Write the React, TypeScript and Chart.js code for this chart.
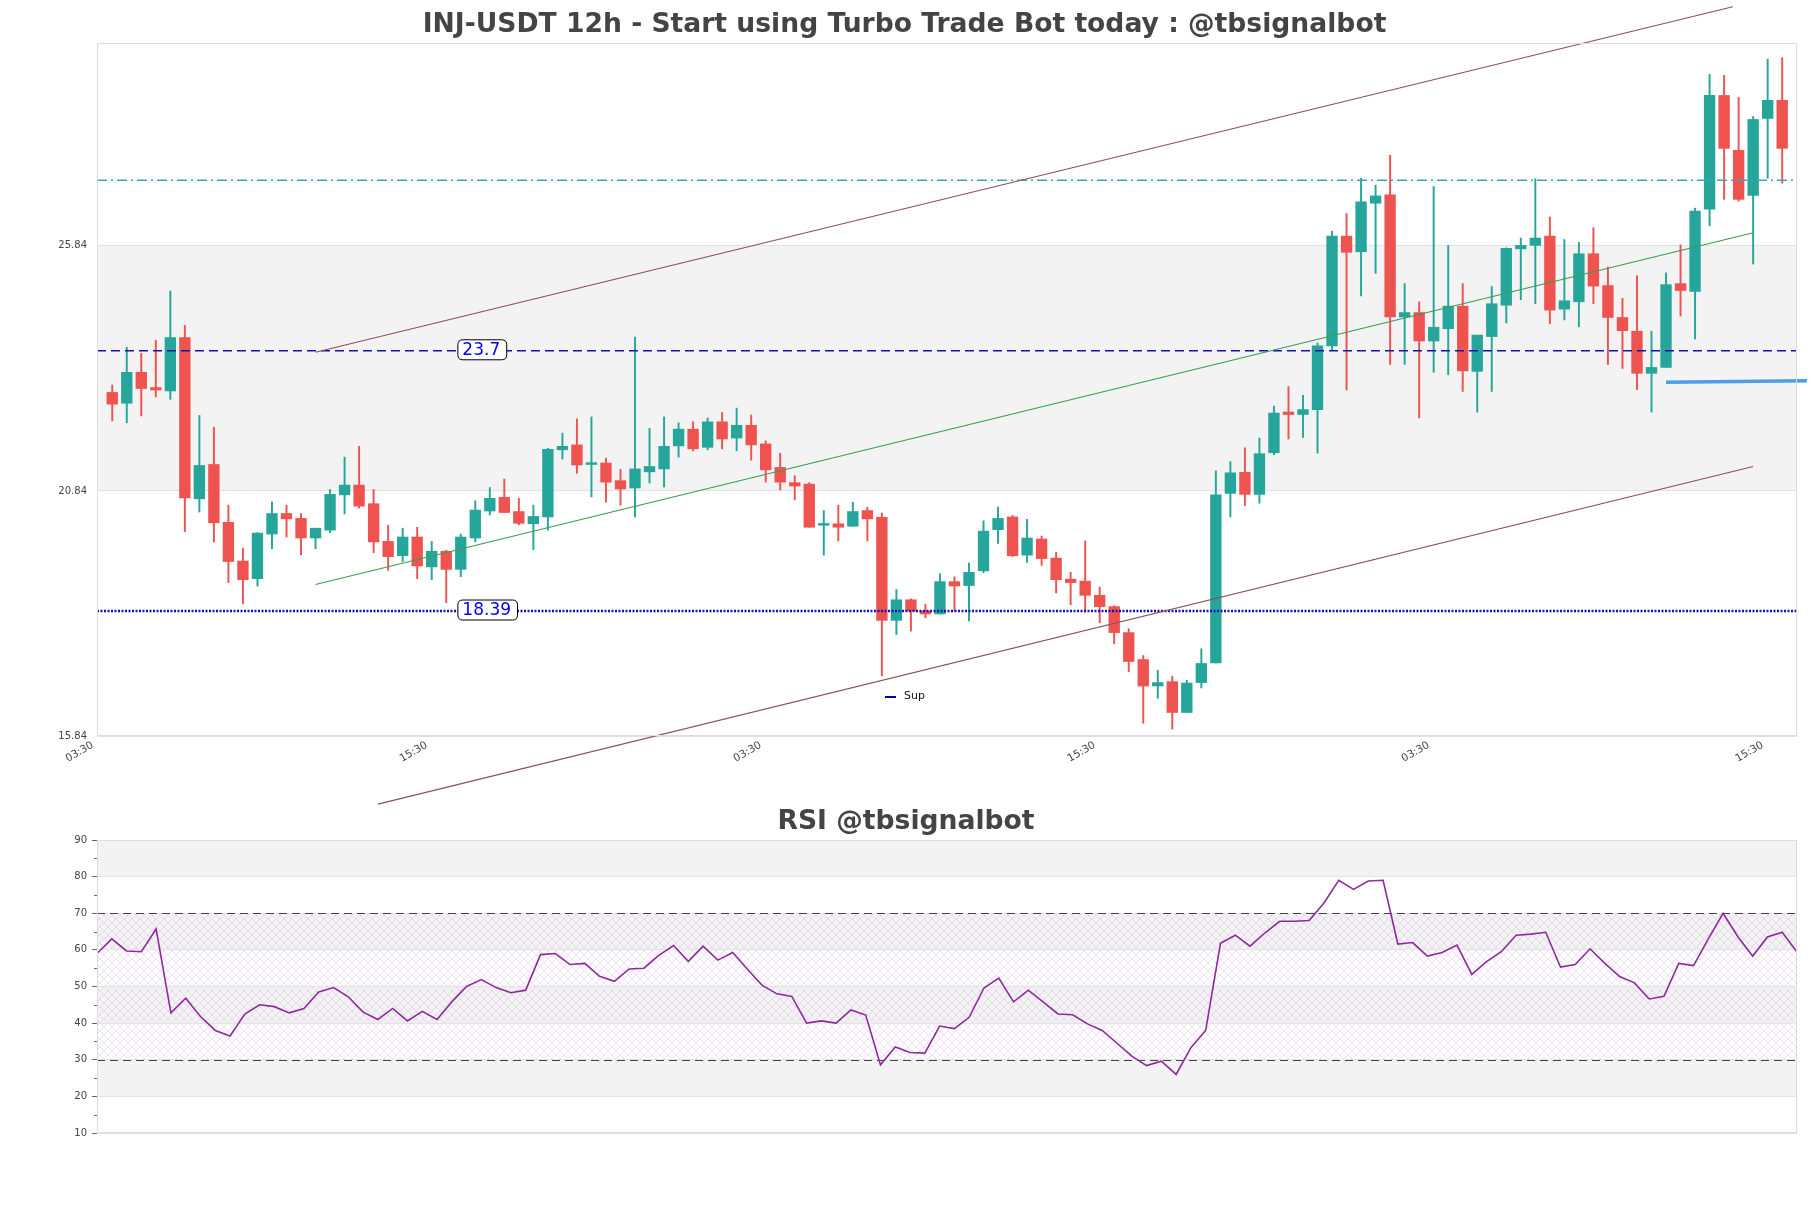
import React, { useEffect, useRef } from 'react';
import { Chart, registerables } from 'chart.js';

Chart.register(...registerables);
Chart.defaults.font.family = "'DejaVu Sans', 'Liberation Sans', sans-serif";

// ---------- DATA ----------
const opens = [
  22.85, 22.63, 23.26, 22.95, 22.88, 23.97, 20.68, 21.38, 20.20, 19.41,
  19.05, 19.96, 20.38, 20.28, 19.88, 20.04, 20.76, 20.96, 20.58, 19.81,
  19.52, 19.90, 19.29, 19.61, 19.24, 19.88, 20.43, 20.71, 20.42, 20.17,
  20.31, 21.68, 21.78, 21.38, 21.41, 21.05, 20.90, 21.23, 21.29, 21.76,
  22.10, 21.73, 22.25, 21.92, 22.18, 21.80, 21.32, 21.01, 20.98, 20.14,
  20.17, 20.12, 20.44, 20.30, 18.20, 18.62, 18.39, 18.33, 18.99, 18.91,
  19.21, 20.05, 20.31, 19.53, 19.86, 19.47, 19.04, 19.00, 18.71, 18.48,
  17.95, 17.40, 16.86, 16.95, 16.32, 16.93, 17.33, 20.79, 21.22, 20.77,
  21.62, 22.45, 22.40, 22.50, 23.80, 26.04, 25.72, 26.71, 26.88, 24.39,
  24.48, 23.90, 24.15, 24.61, 23.28, 23.99, 24.63, 25.78, 25.85, 26.04,
  24.55, 24.70, 25.68, 25.03, 24.38, 24.10, 23.24, 23.36, 25.07, 24.91,
  26.59, 28.91, 27.79, 26.87, 28.44, 28.81,
];
const highs = [
  23.00, 23.77, 23.65, 23.91, 24.92, 24.22, 22.38, 22.14, 20.55, 19.67,
  19.99, 20.62, 20.55, 20.38, 20.08, 20.87, 21.53, 21.75, 20.87, 20.14,
  20.08, 20.10, 19.81, 19.63, 19.96, 20.64, 20.91, 21.08, 20.69, 20.55,
  21.71, 22.02, 22.31, 22.35, 21.51, 21.28, 23.98, 22.12, 22.35, 22.23,
  22.25, 22.33, 22.44, 22.53, 22.39, 21.86, 21.61, 21.15, 21.01, 20.44,
  20.55, 20.61, 20.51, 20.39, 18.83, 18.64, 18.53, 19.15, 19.09, 19.37,
  20.23, 20.51, 20.34, 20.26, 19.92, 19.59, 19.18, 19.82, 18.88, 18.50,
  18.03, 17.48, 17.18, 17.06, 16.98, 17.62, 21.25, 21.44, 21.72, 21.92,
  22.57, 22.97, 22.79, 23.86, 26.14, 26.50, 27.22, 27.08, 27.69, 25.07,
  24.70, 27.05, 25.85, 25.07, 24.02, 25.01, 25.80, 26.00, 27.21, 26.43,
  25.97, 25.91, 26.21, 25.41, 24.77, 25.23, 24.10, 25.29, 25.86, 26.61,
  29.34, 29.32, 28.87, 28.48, 29.65, 29.68,
];
const lows = [
  22.27, 22.23, 22.37, 22.76, 22.71, 20.01, 20.41, 19.80, 18.97, 18.54,
  18.90, 19.66, 19.90, 19.54, 19.66, 19.99, 20.37, 20.49, 19.58, 19.22,
  19.40, 19.05, 19.03, 18.56, 19.09, 19.80, 20.35, 20.40, 20.15, 19.64,
  20.04, 21.49, 21.20, 20.72, 20.61, 20.55, 20.31, 21.00, 20.92, 21.53,
  21.66, 21.68, 21.70, 21.66, 21.47, 21.02, 20.86, 20.66, 20.10, 19.53,
  19.82, 20.12, 19.82, 17.07, 17.91, 17.98, 18.25, 18.33, 18.39, 18.19,
  19.17, 19.77, 19.50, 19.38, 19.32, 18.76, 18.52, 18.37, 18.15, 17.72,
  17.15, 16.10, 16.61, 15.98, 16.32, 16.82, 17.33, 20.31, 20.54, 20.59,
  21.58, 21.90, 21.93, 21.61, 23.71, 22.90, 24.82, 25.28, 23.42, 23.42,
  22.33, 23.26, 23.21, 22.87, 22.45, 22.87, 24.27, 24.74, 24.66, 24.25,
  24.33, 24.19, 24.66, 23.42, 23.34, 22.91, 22.45, 23.36, 24.41, 23.94,
  26.25, 26.79, 26.75, 25.47, 27.22, 27.12,
];
const closes = [
  22.61, 23.26, 22.93, 22.90, 23.97, 20.70, 21.36, 20.19, 19.40, 19.03,
  19.98, 20.38, 20.27, 19.88, 20.08, 20.77, 20.96, 20.53, 19.80, 19.50,
  19.90, 19.31, 19.61, 19.24, 19.90, 20.45, 20.69, 20.40, 20.18, 20.32,
  21.69, 21.75, 21.37, 21.39, 21.02, 20.88, 21.29, 21.34, 21.75, 22.10,
  21.70, 22.25, 21.90, 22.18, 21.78, 21.27, 21.02, 20.94, 20.10, 20.17,
  20.10, 20.42, 20.27, 18.20, 18.62, 18.39, 18.33, 18.99, 18.90, 19.18,
  20.02, 20.28, 19.52, 19.88, 19.46, 19.03, 18.97, 18.71, 18.48, 17.95,
  17.36, 16.86, 16.93, 16.32, 16.92, 17.32, 20.76, 21.21, 20.77, 21.60,
  22.43, 22.40, 22.50, 23.80, 26.04, 25.71, 26.74, 26.86, 24.39, 24.48,
  23.90, 24.18, 24.61, 23.29, 24.02, 24.66, 25.79, 25.85, 26.00, 24.53,
  24.72, 25.68, 25.02, 24.38, 24.11, 23.24, 23.36, 25.05, 24.93, 26.55,
  28.91, 27.83, 26.79, 28.42, 28.81, 27.83,
];
const rsiValues = [
  59.0, 63.0, 59.7, 59.5, 65.7, 42.8, 46.8, 41.8, 38.0, 36.5,
  42.5, 45.0, 44.5, 42.8, 44.0, 48.5, 49.7, 47.2, 43.0, 41.0,
  44.0, 40.6, 43.2, 41.0, 45.8, 50.0, 51.9, 49.7, 48.3, 49.0,
  58.7, 59.0, 56.0, 56.3, 52.8, 51.4, 54.8, 55.0, 58.5, 61.2,
  56.9, 61.0, 57.2, 59.3, 54.7, 50.3, 48.0, 47.3, 40.0, 40.6,
  40.0, 43.6, 42.2, 28.6, 33.5, 32.0, 31.8, 39.2, 38.5, 41.6,
  49.6, 52.3, 45.8, 49.0, 45.8, 42.5, 42.3, 39.8, 38.0, 34.5,
  31.0, 28.4, 29.6, 26.0, 33.3, 38.0, 61.8, 64.0, 61.0, 64.6,
  67.8, 67.8, 68.0, 72.8, 79.0, 76.5, 78.8, 79.0, 61.6, 62.0,
  58.3, 59.3, 61.3, 53.3, 56.8, 59.5, 64.0, 64.3, 64.8, 55.3,
  56.0, 60.3, 56.3, 52.7, 51.0, 46.6, 47.3, 56.3, 55.7, 63.0,
  70.0, 63.6, 58.3, 63.5, 64.8, 59.4,
];

const priceTicks = [15.84, 20.84, 25.84];
const timeTickIndex = [-1, 22, 45, 68, 91, 114];
const timeTickLabels = ['03:30', '15:30', '03:30', '15:30', '03:30', '15:30'];
const priceMin = 15.84;
const priceMax = 29.98;
const xMin = -1.05;
const xMax = 116.02;
const zoneLow = 20.84;
const zoneHigh = 25.84;
const resistanceLevel = 23.7;
const supportLevel = 18.39;
const upperZoneLevel = 27.18;
const levelLabelIndex = 23.8;
const upperChannelX = [14, 111.6];
const upperChannelY = [23.67, 30.72];
const lowerChannelX = [18.3, 113];
const lowerChannelY = [14.45, 21.34];
const trendX = [14, 113];
const trendY = [18.93, 26.11];
const supX = [107, 116.7];
const supY = [23.06, 23.09];
const rsiTicks = [10, 20, 30, 40, 50, 60, 70, 80, 90];
const rsiGrayBands = [[80, 90], [60, 70], [40, 50], [20, 30]];
const rsiHatch = [30, 70];
const rsiLevels = [70, 30];

const UP = '#26a69a';
const DOWN = '#ef5350';
const TEXT = '#444444';

const MAIN_TITLE = 'INJ-USDT 12h - Start using Turbo Trade Bot today : @tbsignalbot';
const RSI_TITLE = 'RSI @tbsignalbot';

function roundRect(ctx: CanvasRenderingContext2D, x: number, y: number, w: number, h: number, r: number) {
  ctx.beginPath();
  ctx.moveTo(x + r, y);
  ctx.lineTo(x + w - r, y);
  ctx.quadraticCurveTo(x + w, y, x + w, y + r);
  ctx.lineTo(x + w, y + h - r);
  ctx.quadraticCurveTo(x + w, y + h, x + w - r, y + h);
  ctx.lineTo(x + r, y + h);
  ctx.quadraticCurveTo(x, y + h, x, y + h - r);
  ctx.lineTo(x, y + r);
  ctx.quadraticCurveTo(x, y, x + r, y);
  ctx.closePath();
}

const mainDecor = {
  id: 'mainDecor',
  beforeDraw(chart: any) {
    const { ctx, chartArea: a, scales } = chart;
    const y = scales.y;
    ctx.save();
    ctx.fillStyle = '#f3f3f3';
    const t = y.getPixelForValue(zoneHigh);
    const b = y.getPixelForValue(zoneLow);
    ctx.fillRect(a.left, t, a.right - a.left, b - t);
    ctx.restore();
  },
  afterDatasetsDraw(chart: any) {
    const { ctx, chartArea: a, scales } = chart;
    const x = scales.x;
    const y = scales.y;
    ctx.save();
    ctx.font = "17px 'DejaVu Sans'";
    ctx.textBaseline = 'middle';
    ctx.textAlign = 'left';
    [resistanceLevel, supportLevel].forEach((lv) => {
      const txt = String(lv);
      const w = ctx.measureText(txt).width;
      const bx = x.getPixelForValue(levelLabelIndex);
      const by = y.getPixelForValue(lv);
      const bw = w + 11;
      const bh = 20;
      roundRect(ctx, bx, by - bh / 2 - 1, bw, bh, 5);
      ctx.fillStyle = '#ffffff';
      ctx.fill();
      ctx.strokeStyle = '#000000';
      ctx.lineWidth = 1;
      ctx.stroke();
      ctx.fillStyle = '#0000ee';
      ctx.fillText(txt, bx + 4.5, by);
    });
    // legend
    const lx = a.left + 788;
    const ly = a.bottom - 39;
    ctx.strokeStyle = '#0000aa';
    ctx.lineWidth = 2;
    ctx.beginPath();
    ctx.moveTo(lx, ly);
    ctx.lineTo(lx + 11, ly);
    ctx.stroke();
    ctx.fillStyle = '#111111';
    ctx.font = "11px 'DejaVu Sans'";
    ctx.fillText('Sup', lx + 19, ly - 1);
    ctx.restore();
  },
  afterDraw(chart: any) {
    const { ctx, chartArea: a } = chart;
    ctx.save();
    ctx.strokeStyle = '#dddddd';
    ctx.lineWidth = 1;
    ctx.strokeRect(a.left + 0.5, a.top + 0.5, a.right - a.left - 1, a.bottom - a.top - 1);
    ctx.fillStyle = TEXT;
    ctx.font = "bold 26.6px 'DejaVu Sans'";
    ctx.textAlign = 'center';
    ctx.textBaseline = 'middle';
    ctx.fillText(MAIN_TITLE, 904.5, 25.5);
    ctx.restore();
  },
};

let hatchPattern: CanvasPattern | null = null;
function getHatch(ctx: CanvasRenderingContext2D) {
  if (hatchPattern) return hatchPattern;
  const pc = document.createElement('canvas');
  pc.width = 8;
  pc.height = 8;
  const g = pc.getContext('2d')!;
  g.strokeStyle = 'rgba(205,165,215,0.4)';
  g.lineWidth = 0.8;
  g.beginPath();
  g.moveTo(0, 0);
  g.lineTo(8, 8);
  g.moveTo(8, 0);
  g.lineTo(0, 8);
  g.stroke();
  hatchPattern = ctx.createPattern(pc, 'repeat');
  return hatchPattern;
}

const rsiDecor = {
  id: 'rsiDecor',
  beforeDraw(chart: any) {
    const { ctx, chartArea: a, scales } = chart;
    const y = scales.y;
    ctx.save();
    ctx.fillStyle = '#f3f3f3';
    rsiGrayBands.forEach(([lo, hi]) => {
      const t = y.getPixelForValue(hi);
      const b = y.getPixelForValue(lo);
      ctx.fillRect(a.left, t, a.right - a.left, b - t);
    });
    const pat = getHatch(ctx);
    if (pat) {
      ctx.fillStyle = pat;
      const t = y.getPixelForValue(rsiHatch[1]);
      const b = y.getPixelForValue(rsiHatch[0]);
      ctx.fillRect(a.left, t, a.right - a.left, b - t);
    }
    ctx.restore();
  },
  beforeDatasetsDraw(chart: any) {
    const { ctx, chartArea: a, scales } = chart;
    const y = scales.y;
    ctx.save();
    ctx.strokeStyle = '#444444';
    ctx.lineWidth = 1.2;
    ctx.setLineDash([8, 5]);
    rsiLevels.forEach((lv) => {
      const py = Math.round(y.getPixelForValue(lv)) + 0.5;
      ctx.beginPath();
      ctx.moveTo(a.left, py);
      ctx.lineTo(a.right, py);
      ctx.stroke();
    });
    ctx.restore();
  },
  afterDraw(chart: any) {
    const { ctx, chartArea: a, scales } = chart;
    const y = scales.y;
    ctx.save();
    ctx.strokeStyle = '#dddddd';
    ctx.lineWidth = 1;
    ctx.strokeRect(a.left + 0.5, a.top + 0.5, a.right - a.left - 1, a.bottom - a.top - 1);
    ctx.strokeStyle = '#666666';
    for (let v = 15; v < 90; v += 10) {
      const py = Math.round(y.getPixelForValue(v)) + 0.5;
      ctx.beginPath();
      ctx.moveTo(a.left - 3, py);
      ctx.lineTo(a.left, py);
      ctx.stroke();
    }
    ctx.fillStyle = TEXT;
    ctx.font = "bold 26.6px 'DejaVu Sans'";
    ctx.textAlign = 'center';
    ctx.textBaseline = 'middle';
    ctx.fillText(RSI_TITLE, 906, 27.5);
    ctx.restore();
  },
};

export default function App() {
  const mainRef = useRef<HTMLCanvasElement | null>(null);
  const rsiRef = useRef<HTMLCanvasElement | null>(null);

  useEffect(() => {
    const bodies = opens.map((o, i) => ({ x: i, y: [o, closes[i]] }));
    const wicks = lows.map((l, i) => ({ x: i, y: [l, highs[i]] }));
    const colors = opens.map((o, i) => (closes[i] >= o ? UP : DOWN));
    const seg = (xs: number[], ys: number[]) => xs.map((v, i) => ({ x: v, y: ys[i] }));

    const lineDs = (data: any[], color: string, width: number, dash: number[] = [], clip: any = false) => ({
      type: 'line' as const,
      data,
      borderColor: color,
      borderWidth: width,
      borderDash: dash,
      pointRadius: 0,
      fill: false,
      tension: 0,
      clip,
    });

    const mainChart = new Chart(mainRef.current!, {
      type: 'bar',
      data: {
        datasets: [
          lineDs(seg(supX, supY), '#4a9ee8', 3.5),
          lineDs(seg(upperChannelX, upperChannelY), '#8c4f5e', 1.1),
          lineDs(seg(lowerChannelX, lowerChannelY), '#8c4f5e', 1.1),
          lineDs(seg(trendX, trendY), '#3a9e50', 1.1),
          lineDs(seg([xMin, xMax], [upperZoneLevel, upperZoneLevel]), '#3aa3c6', 1.3, [10, 4, 2, 4], 0),
          lineDs(seg([xMin, xMax], [resistanceLevel, resistanceLevel]), '#1414a8', 1.5, [9, 5], 0),
          lineDs(seg([xMin, xMax], [supportLevel, supportLevel]), '#1010b8', 2.6, [2, 1.5], 0),
          {
            type: 'bar' as const,
            data: bodies as any,
            backgroundColor: colors,
            borderWidth: 0,
            grouped: false,
            barThickness: 10.7,
            maxBarThickness: 10.7,
            minBarLength: 1.8,
          },
          {
            type: 'bar' as const,
            data: wicks as any,
            backgroundColor: colors,
            borderWidth: 0,
            grouped: false,
            barThickness: 1.3,
            maxBarThickness: 1.3,
          },
        ] as any,
      },
      options: {
        animation: false,
        responsive: false,
        maintainAspectRatio: false,
        devicePixelRatio: 1,
        layout: { padding: { left: 0, right: 14, top: 43, bottom: 0 } },
        plugins: { legend: { display: false }, tooltip: { enabled: false }, title: { display: false } },
        scales: {
          x: {
            type: 'linear',
            min: xMin,
            max: xMax,
            offset: false,
            grid: { display: false, drawTicks: false },
            border: { display: false },
            afterBuildTicks: (s: any) => {
              s.ticks = timeTickIndex.map((v) => ({ value: v }));
            },
            afterFit: (s: any) => {
              s.height = 74;
            },
            ticks: {
              autoSkip: false,
              minRotation: 30,
              maxRotation: 30,
              padding: 3,
              labelOffset: -5,
              color: TEXT,
              font: { size: 10.5 },
              callback: (v: any) => {
                const k = timeTickIndex.indexOf(Number(v));
                return k >= 0 ? timeTickLabels[k] : '';
              },
            },
          },
          y: {
            type: 'linear',
            min: priceMin,
            max: priceMax,
            grid: { color: '#e2e2e2', drawTicks: false },
            border: { display: false },
            afterBuildTicks: (s: any) => {
              s.ticks = priceTicks.map((v) => ({ value: v }));
            },
            afterFit: (s: any) => {
              s.width = 97;
            },
            ticks: {
              padding: 10,
              color: TEXT,
              font: { size: 10 },
              callback: (v: any) => Number(v).toFixed(2),
            },
          },
        },
      } as any,
      plugins: [mainDecor],
    });

    const rsiChart = new Chart(rsiRef.current!, {
      type: 'line',
      data: {
        datasets: [
          {
            data: rsiValues.map((v, i) => ({ x: i, y: v })),
            borderColor: '#8e2a9e',
            borderWidth: 1.6,
            pointRadius: 0,
            fill: false,
            tension: 0,
          },
        ],
      },
      options: {
        animation: false,
        responsive: false,
        maintainAspectRatio: false,
        devicePixelRatio: 1,
        layout: { padding: { left: 0, right: 14, top: 45, bottom: 75 } },
        plugins: { legend: { display: false }, tooltip: { enabled: false }, title: { display: false } },
        scales: {
          x: { type: 'linear', min: 0, max: rsiValues.length - 1, display: false },
          y: {
            type: 'linear',
            min: 10,
            max: 90,
            grid: { color: '#e4e4e4', tickColor: '#666666', tickLength: 5, drawTicks: true },
            border: { display: false },
            afterBuildTicks: (s: any) => {
              s.ticks = rsiTicks.map((v) => ({ value: v }));
            },
            afterFit: (s: any) => {
              s.width = 97;
            },
            ticks: { padding: 5, color: TEXT, font: { size: 10 } },
          },
        },
      } as any,
      plugins: [rsiDecor],
    });

    return () => {
      mainChart.destroy();
      rsiChart.destroy();
    };
  }, []);

  return (
    <div style={{ position: 'fixed', left: 0, top: 0, width: 1811, height: 1208, background: '#ffffff' }}>
      <canvas ref={mainRef} width={1811} height={810} style={{ position: 'absolute', left: 0, top: 0 }} />
      <canvas ref={rsiRef} width={1811} height={413} style={{ position: 'absolute', left: 0, top: 795 }} />
    </div>
  );
}
